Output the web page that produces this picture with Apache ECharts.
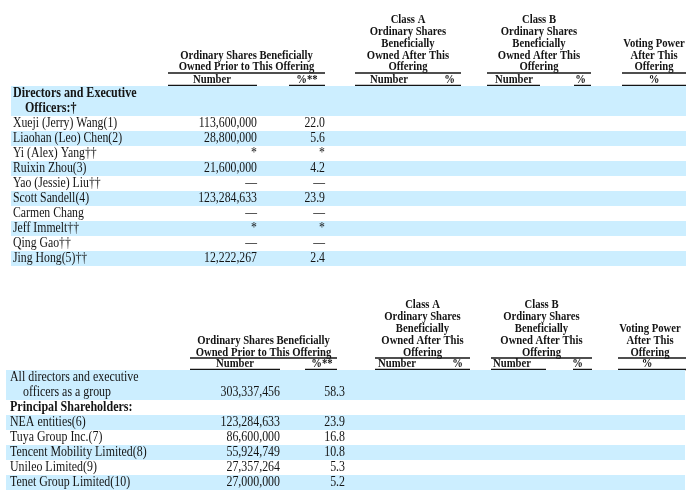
<!DOCTYPE html>
<html><head><meta charset="utf-8">
<script src="https://cdn.jsdelivr.net/npm/echarts@6/dist/echarts.min.js"></script>
<style>html,body{margin:0;padding:0;background:#fff}#c{width:686px;height:490px}</style>
</head><body><div id="c"></div>
<script>
// ---------- DATA ----------
const directorsHeading = ["Directors and Executive", "Officers:\u2020"];
const directorNames = ["Xueji (Jerry) Wang(1)", "Liaohan (Leo) Chen(2)", "Yi (Alex) Yang\u2020\u2020", "Ruixin Zhou(3)", "Yao (Jessie) Liu\u2020\u2020", "Scott Sandell(4)", "Carmen Chang", "Jeff Immelt\u2020\u2020", "Qing Gao\u2020\u2020", "Jing Hong(5)\u2020\u2020"];
const directorShares = ["113,600,000", "28,800,000", "*", "21,600,000", "\u2014", "123,284,633", "\u2014", "*", "\u2014", "12,222,267"];
const directorPct = ["22.0", "5.6", "*", "4.2", "\u2014", "23.9", "\u2014", "*", "\u2014", "2.4"];

const groupLabel = ["All directors and executive", "officers as a group"];
const groupShares = ["303,337,456"];
const groupPct = ["58.3"];
const principalHeading = ["Principal Shareholders:"];
const principalNames = ["NEA entities(6)", "Tuya Group Inc.(7)", "Tencent Mobility Limited(8)", "Unileo Limited(9)", "Tenet Group Limited(10)"];
const principalShares = ["123,284,633", "86,600,000", "55,924,749", "27,357,264", "27,000,000"];
const principalPct = ["23.9", "16.8", "10.8", "5.3", "5.2"];

const priorHeader = ["Ordinary Shares Beneficially", "Owned Prior to This Offering"];
const classAHeader = ["Class A", "Ordinary Shares", "Beneficially", "Owned After This", "Offering"];
const classBHeader = ["Class B", "Ordinary Shares", "Beneficially", "Owned After This", "Offering"];
const votingHeader = ["Voting Power", "After This", "Offering"];
const subHeaders = ["Number", "%**", "Number", "%", "Number", "%", "%"];

// ---------- LAYOUT ----------
const BLUE = '#CCEEFF';
const INK = '#141414';
const SERIF = '"Liberation Serif","Times New Roman",serif';
const LT = {
  gridTop: 86, slotH: 15, bandX0: 11, bandX1: 686, nameX: 13, indentX: 25, numR: 257, pctR: 325,
  size: 14, sx: 0.84, boldSize: 14, boldSx: 0.86, hsize: 13, hsx: 0.82,
  prior: {x0: 168, x1: 325, ys: [55.25, 67]},
  classA: {x0: 355, x1: 461, ys: [20, 31.75, 43.5, 55.25, 67]},
  classB: {x0: 487, x1: 591, ys: [20, 31.75, 43.5, 55.25, 67]},
  voting: {x0: 622, x1: 686, cx: 654, ys: [43.5, 55.25, 67]},
  ul1: 73, subY: 80, ul2: 85.5,
  sub: [ {cx: 212, ul: [168, 257]}, {cx: 307, ul: [289, 325]},
         {left: 370, ul: [355, 461]}, {right: 455, ul: null},
         {left: 495, ul: [487, 540]}, {right: 586, ul: [574, 591]},
         {cx: 654, ul: [622, 686]} ]
};
const LB = {
  gridTop: 370, slotH: 15, bandX0: 6, bandX1: 685, nameX: 10, indentX: 23, numR: 280, pctR: 345,
  size: 14, sx: 0.85, boldSize: 14, boldSx: 0.86, hsize: 13, hsx: 0.82,
  prior: {x0: 190, x1: 337, ys: [340.5, 352.5]},
  classA: {x0: 375, x1: 470, ys: [305, 317, 329, 341, 352.5]},
  classB: {x0: 491, x1: 592, ys: [305, 317, 329, 341, 352.5]},
  voting: {x0: 618, x1: 686, cx: 650, ys: [329, 341, 352.5]},
  ul1: 358, subY: 364, ul2: 369.5,
  sub: [ {cx: 235, ul: [190, 280]}, {cx: 322, ul: [305, 337]},
         {left: 378, ul: [375, 470]}, {right: 463, ul: null},
         {left: 493, ul: [491, 546]}, {right: 583, ul: [573, 592]},
         {cx: 647, ul: [618, 686]} ]
};

// ---------- BUILD SLOTS ----------
function topSlots() {
  const s = [];
  s.push({blue: true, name: directorsHeading[0], bold: true});
  s.push({blue: true, name: directorsHeading[1], bold: true, indent: true});
  directorNames.forEach((n, i) => s.push({blue: (i + 1) % 2 === 0, name: n, num: directorShares[i], pct: directorPct[i]}));
  return s;
}
function bottomSlots() {
  const s = [];
  s.push({blue: true, name: groupLabel[0]});
  s.push({blue: true, name: groupLabel[1], indent: true, num: groupShares[0], pct: groupPct[0]});
  s.push({blue: false, name: principalHeading[0], bold: true});
  principalNames.forEach((n, i) => s.push({blue: i % 2 === 0, name: n, num: principalShares[i], pct: principalPct[i]}));
  return s;
}
const slotsT = topSlots(), slotsB = bottomSlots();

function textEl(t, p, font, sx, align) {
  return {type: 'text', x: p[0], y: p[1], scaleX: sx,
    style: {text: t, x: 0, y: 0, font: font, fill: INK, textAlign: align, textVerticalAlign: 'middle'}};
}

function makeRender(slots, L) {
  return function (params, api) {
    const i = api.value(1);
    const s = slots[params.dataIndex];
    const h = api.size([0, 1])[1];
    const a = api.coord([L.bandX0, i]);
    const b = api.coord([L.bandX1, i]);
    const children = [];
    if (s.blue) children.push({type: 'rect', shape: {x: a[0], y: a[1] - h / 2, width: b[0] - a[0], height: h}, style: {fill: BLUE}});
    const bodyFont = L.size + 'px ' + SERIF;
    const nameFont = s.bold ? 'bold ' + L.boldSize + 'px ' + SERIF : bodyFont;
    children.push(textEl(s.name, api.coord([s.indent ? L.indentX : L.nameX, i]), nameFont, s.bold ? L.boldSx : L.sx, 'left'));
    if (s.num) children.push(textEl(s.num, api.coord([L.numR, i]), bodyFont, L.sx, 'right'));
    if (s.pct) children.push(textEl(s.pct, api.coord([L.pctR, i]), bodyFont, L.sx, 'right'));
    return {type: 'group', children: children};
  };
}

function headerGraphics(L) {
  const g = [];
  const hf = 'bold ' + L.hsize + 'px ' + SERIF;
  const txt = (t, x, y, align) => g.push(textEl(t, [x, y], hf, L.hsx, align || 'center'));
  const line = (x1, x2, y) => g.push({type: 'line', shape: {x1: x1, y1: y, x2: x2, y2: y}, style: {stroke: INK, lineWidth: 1.5}});
  priorHeader.forEach((t, k) => txt(t, (L.prior.x0 + L.prior.x1) / 2, L.prior.ys[k]));
  classAHeader.forEach((t, k) => txt(t, (L.classA.x0 + L.classA.x1) / 2, L.classA.ys[k]));
  classBHeader.forEach((t, k) => txt(t, (L.classB.x0 + L.classB.x1) / 2, L.classB.ys[k]));
  votingHeader.forEach((t, k) => txt(t, L.voting.cx, L.voting.ys[k]));
  [L.prior, L.classA, L.classB, L.voting].forEach(c => line(c.x0, c.x1, L.ul1));
  subHeaders.forEach((t, k) => {
    const c = L.sub[k];
    if (c.cx !== undefined) txt(t, c.cx, L.subY, 'center');
    else if (c.left !== undefined) txt(t, c.left, L.subY, 'left');
    else txt(t, c.right, L.subY, 'right');
    if (c.ul) line(c.ul[0], c.ul[1], L.ul2);
  });
  return g;
}

const chart = echarts.init(document.getElementById('c'), null, {renderer: 'canvas'});
chart.setOption({
  animation: false,
  backgroundColor: '#fff',
  grid: [
    {left: 0, right: 0, top: LT.gridTop, height: slotsT.length * LT.slotH},
    {left: 0, right: 0, top: LB.gridTop, height: slotsB.length * LB.slotH}
  ],
  xAxis: [
    {type: 'value', gridIndex: 0, min: 0, max: 686, show: false},
    {type: 'value', gridIndex: 1, min: 0, max: 686, show: false}
  ],
  yAxis: [
    {type: 'category', gridIndex: 0, inverse: true, data: slotsT.map((s, i) => String(i)), show: false},
    {type: 'category', gridIndex: 1, inverse: true, data: slotsB.map((s, i) => String(i)), show: false}
  ],
  series: [
    {type: 'custom', xAxisIndex: 0, yAxisIndex: 0, renderItem: makeRender(slotsT, LT), encode: {x: 0, y: 1}, clip: false,
     data: slotsT.map((s, i) => [0, i])},
    {type: 'custom', xAxisIndex: 1, yAxisIndex: 1, renderItem: makeRender(slotsB, LB), encode: {x: 0, y: 1}, clip: false,
     data: slotsB.map((s, i) => [0, i])}
  ],
  graphic: headerGraphics(LT).concat(headerGraphics(LB))
});
</script>
</body></html>
